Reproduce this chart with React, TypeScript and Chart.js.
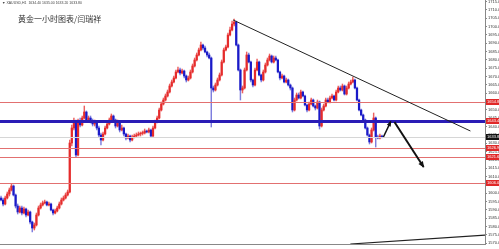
import React, { useEffect, useRef } from "react";
import { Chart, registerables } from "chart.js";
Chart.register(...registerables);

const titleText = "黄金一小时图表/闫瑞祥";
const infoText = "▼ XAUUSD,H1  1634.40 1635.00 1633.20 1633.80";

const slotCount = 233;
const labelEvery = 8;
const timeLabels = [
  "2 Mar 2020", "2 Mar 15:00", "2 Mar 23:00", "3 Mar 08:00", "3 Mar 16:00", "4 Mar 01:00",
  "4 Mar 09:00", "4 Mar 17:00", "5 Mar 02:00", "5 Mar 10:00", "5 Mar 18:00", "6 Mar 03:00",
  "6 Mar 11:00", "6 Mar 19:00", "9 Mar 04:00", "9 Mar 12:00", "9 Mar 20:00", "10 Mar 05:00",
  "10 Mar 13:00", "10 Mar 21:00", "11 Mar 06:00", "11 Mar 14:00", "11 Mar 22:00", "12 Mar 07:00",
];

const opens = [
  1597.2,1596.0,1593.6,1597.2,1599.6,1602.0,1604.4,1599.0,1592.4,1588.8,
  1591.2,1588.2,1590.6,1587.0,1588.8,1582.8,1579.2,1581.0,1587.0,1591.2,
  1593.0,1594.2,1594.8,1593.0,1593.6,1590.0,1588.2,1589.4,1591.2,1593.6,
  1596.0,1597.2,1599.0,1600.8,1630.2,1639.2,1642.8,1623.0,1642.8,1641.0,
  1645.2,1648.8,1644.0,1645.2,1643.4,1641.6,1642.8,1639.2,1635.0,1632.0,
  1635.6,1639.2,1641.6,1644.0,1646.4,1644.0,1640.4,1642.8,1638.0,1639.2,
  1635.6,1633.2,1634.4,1632.0,1633.8,1634.4,1635.0,1635.6,1636.0,1636.2,
  1637.4,1636.8,1638.0,1634.4,1639.2,1642.8,1645.2,1650.0,1653.6,1656.0,
  1658.4,1660.8,1664.4,1666.8,1669.2,1672.8,1674.0,1672.2,1673.4,1670.4,
  1668.0,1669.2,1672.8,1676.4,1680.0,1683.0,1686.0,1689.0,1687.2,1684.8,
  1683.0,1681.2,1663.2,1662.0,1665.0,1668.0,1671.0,1678.8,1686.0,1687.8,
  1695.0,1698.0,1701.6,1702.8,1689.0,1674.0,1662.0,1663.2,1674.0,1683.0,
  1678.8,1668.0,1665.0,1674.0,1678.8,1671.0,1668.0,1672.8,1677.0,1680.0,
  1682.4,1678.8,1681.2,1680.0,1672.8,1669.2,1670.4,1666.8,1668.0,1665.0,
  1663.2,1650.0,1656.0,1659.0,1657.2,1660.8,1658.4,1653.0,1650.0,1653.6,
  1656.0,1652.4,1651.2,1654.8,1640.4,1650.0,1652.4,1656.0,1654.8,1657.2,
  1658.4,1656.0,1660.8,1663.2,1662.0,1664.4,1659.6,1663.2,1665.6,1666.8,
  1668.0,1663.2,1656.0,1650.0,1647.0,1644.0,1639.2,1635.0,1630.8,1638.0,
  1645.2,1633.8,1633.2,1634.4,
];

const closes = [
  1596.0,1593.6,1597.2,1599.6,1602.0,1604.4,1599.0,1592.4,1588.8,1591.2,
  1588.2,1590.6,1587.0,1588.8,1582.8,1579.2,1581.0,1587.0,1591.2,1593.0,
  1594.2,1594.8,1593.0,1593.6,1590.0,1588.2,1589.4,1591.2,1593.6,1596.0,
  1597.2,1599.0,1600.8,1630.2,1639.2,1642.8,1623.0,1642.8,1641.0,1645.2,
  1648.8,1644.0,1645.2,1643.4,1641.6,1642.8,1639.2,1635.0,1632.0,1635.6,
  1639.2,1641.6,1644.0,1646.4,1644.0,1640.4,1642.8,1638.0,1639.2,1635.6,
  1633.2,1634.4,1632.0,1633.8,1634.4,1635.0,1635.6,1636.0,1636.2,1637.4,
  1636.8,1638.0,1634.4,1639.2,1642.8,1645.2,1650.0,1653.6,1656.0,1658.4,
  1660.8,1664.4,1666.8,1669.2,1672.8,1674.0,1672.2,1673.4,1670.4,1668.0,
  1669.2,1672.8,1676.4,1680.0,1683.0,1686.0,1689.0,1687.2,1684.8,1683.0,
  1681.2,1663.2,1662.0,1665.0,1668.0,1671.0,1678.8,1686.0,1687.8,1695.0,
  1698.0,1701.6,1702.8,1689.0,1674.0,1662.0,1663.2,1674.0,1683.0,1678.8,
  1668.0,1665.0,1674.0,1678.8,1671.0,1668.0,1672.8,1677.0,1680.0,1682.4,
  1678.8,1681.2,1680.0,1672.8,1669.2,1670.4,1666.8,1668.0,1665.0,1663.2,
  1650.0,1656.0,1659.0,1657.2,1660.8,1658.4,1653.0,1650.0,1653.6,1656.0,
  1652.4,1651.2,1654.8,1640.4,1650.0,1652.4,1656.0,1654.8,1657.2,1658.4,
  1656.0,1660.8,1663.2,1662.0,1664.4,1659.6,1663.2,1665.6,1666.8,1668.0,
  1663.2,1656.0,1650.0,1647.0,1644.0,1639.2,1635.0,1630.8,1638.0,1645.2,
  1633.8,1633.2,1634.4,1633.8,
];

const highs = [
  1598.4,1597.2,1598.4,1600.8,1603.2,1605.6,1605.0,1599.6,1593.6,1592.4,
  1592.4,1591.8,1591.2,1590.0,1589.4,1583.4,1582.2,1588.2,1592.4,1594.2,
  1595.4,1596.0,1595.4,1594.8,1594.2,1590.6,1590.6,1592.4,1594.8,1597.2,
  1598.4,1600.2,1602.0,1632.0,1641.0,1645.2,1644.0,1644.6,1645.2,1646.4,
  1652.4,1649.4,1646.4,1646.4,1644.6,1644.0,1643.4,1640.4,1636.2,1636.8,
  1640.4,1642.8,1645.2,1647.6,1647.0,1644.6,1644.0,1643.4,1641.0,1639.8,
  1636.2,1635.6,1635.0,1635.0,1635.6,1636.2,1636.8,1636.8,1637.4,1638.6,
  1638.0,1639.2,1638.6,1640.4,1644.0,1646.4,1651.2,1654.8,1657.2,1659.6,
  1662.0,1665.6,1668.0,1670.4,1674.0,1675.8,1675.2,1674.6,1674.0,1671.0,
  1670.4,1674.0,1677.6,1681.2,1684.2,1687.2,1690.8,1689.6,1688.4,1685.4,
  1684.2,1681.8,1664.4,1666.2,1669.2,1672.2,1680.0,1687.2,1689.0,1696.2,
  1699.8,1703.4,1704.6,1703.4,1689.6,1674.6,1664.4,1675.2,1684.8,1684.2,
  1679.4,1668.6,1675.2,1680.6,1679.4,1671.6,1674.0,1678.2,1681.2,1683.6,
  1683.0,1682.4,1682.4,1680.6,1673.4,1671.6,1671.0,1669.2,1668.6,1665.6,
  1663.8,1657.2,1660.2,1660.2,1662.0,1661.4,1659.0,1653.6,1654.8,1657.2,
  1656.6,1653.0,1656.0,1655.4,1651.2,1653.6,1657.2,1657.2,1658.4,1659.6,
  1659.0,1662.0,1664.4,1664.4,1665.6,1665.0,1664.4,1666.8,1668.0,1669.8,
  1668.6,1663.8,1656.6,1650.6,1647.6,1644.6,1639.8,1635.6,1639.2,1648.2,
  1645.8,1635.0,1635.6,1635.0,
];

const lows = [
  1595.4,1592.4,1593.0,1596.6,1598.4,1601.4,1598.4,1591.2,1587.6,1588.2,
  1587.0,1587.6,1585.8,1586.4,1581.6,1576.8,1578.0,1580.4,1586.4,1590.6,
  1592.4,1593.6,1592.4,1592.4,1589.4,1587.0,1587.6,1588.8,1590.6,1593.0,
  1595.4,1596.6,1598.4,1600.2,1628.4,1638.0,1621.8,1622.4,1639.8,1640.4,
  1644.6,1642.8,1643.4,1642.2,1640.4,1640.4,1638.0,1633.8,1629.0,1631.4,
  1635.0,1638.6,1641.0,1643.4,1642.8,1639.2,1639.8,1636.8,1637.4,1634.4,
  1632.0,1632.6,1630.8,1631.4,1633.2,1633.8,1634.4,1634.4,1635.0,1635.6,
  1636.2,1636.2,1633.8,1633.8,1638.6,1642.2,1644.6,1649.4,1653.0,1655.4,
  1657.8,1660.2,1663.8,1666.2,1668.6,1672.2,1671.0,1671.6,1669.2,1666.8,
  1667.4,1668.6,1672.2,1675.8,1679.4,1682.4,1685.4,1686.0,1684.2,1681.8,
  1680.6,1639.8,1660.8,1661.4,1664.4,1667.4,1670.4,1678.2,1685.4,1687.2,
  1694.4,1697.4,1700.4,1688.4,1673.4,1656.0,1660.2,1662.6,1673.4,1678.2,
  1666.8,1663.8,1664.4,1673.4,1670.4,1666.8,1667.4,1672.2,1676.4,1679.4,
  1678.2,1678.2,1679.4,1672.2,1668.0,1668.6,1666.2,1666.2,1664.4,1662.0,
  1648.8,1649.4,1655.4,1656.6,1656.6,1657.8,1652.4,1648.8,1649.4,1653.0,
  1651.8,1650.0,1650.6,1638.6,1639.8,1649.4,1651.8,1654.2,1654.2,1656.6,
  1655.4,1655.4,1660.2,1661.4,1661.4,1659.0,1659.0,1662.6,1665.0,1666.2,
  1662.6,1655.4,1649.4,1646.4,1643.4,1638.6,1634.4,1629.6,1630.2,1637.4,
  1627.8,1632.6,1632.6,1633.2,
];

const priceMin = 1569.6;
const priceMax = 1716.0;
const priceStep = 5;

const redLevels = [1654.8, 1626.9, 1621.6, 1606.0];
const keyLevel = 1643.4;
const currentPrice = 1633.8;

// [barIndex, price] pairs
const upperTrend = [[111.5, 1704.0], [225.5, 1637.4]];
const lowerTrend = [[167.8, 1569.6], [232.7, 1575.0]];
const arrowUp = [[183.7, 1633.8], [187.2, 1643.0]];
const arrowDown = [[189.0, 1642.8], [203.0, 1615.8]];

const RED = "#e52b2b";
const BLUE = "#1a1ac8";

export default function App() {
  const ref = useRef<HTMLCanvasElement | null>(null);

  useEffect(() => {
    document.body.style.margin = "0";
    const canvas = ref.current;
    if (!canvas) return;

    const labels = Array.from({ length: slotCount }, (_, i) => String(i));
    const bodies = opens.map((o, i) => [o, closes[i]]);
    const wicks = highs.map((h, i) => [lows[i], h]);
    const bodyColors = opens.map((o, i) => (closes[i] >= o ? RED : BLUE));
    const wickColors = opens.map((o, i) => (closes[i] >= o ? "rgba(229,43,43,0.75)" : "rgba(40,40,200,0.6)"));

    const overlay = {
      id: "overlay",
      afterDatasetsDraw(chart: any) {
        const { ctx, chartArea: a, scales } = chart;
        const x = scales.x;
        const y = scales.y;
        ctx.save();
        ctx.beginPath();
        ctx.rect(a.left, a.top, a.right - a.left, a.bottom - a.top);
        ctx.clip();
        const hline = (p: number, color: string, w: number) => {
          const yy = Math.round(y.getPixelForValue(p)) + (w % 2 ? 0.5 : 0);
          ctx.strokeStyle = color;
          ctx.lineWidth = w;
          ctx.beginPath();
          ctx.moveTo(a.left, yy);
          ctx.lineTo(a.right, yy);
          ctx.stroke();
        };
        hline(currentPrice, "#d6d6d6", 1);
        redLevels.forEach((p) => hline(p, "#e27070", 1));
        hline(keyLevel, "#2a1cb6", 3);

        const pt = (p: number[]) => [x.getPixelForValue(p[0]), y.getPixelForValue(p[1])];
        const seg = (pts: number[][], color: string, w: number) => {
          const [x1, y1] = pt(pts[0]);
          const [x2, y2] = pt(pts[1]);
          ctx.strokeStyle = color;
          ctx.lineWidth = w;
          ctx.beginPath();
          ctx.moveTo(x1, y1);
          ctx.lineTo(x2, y2);
          ctx.stroke();
          return [x1, y1, x2, y2];
        };
        seg(upperTrend, "#222", 1);
        seg(lowerTrend, "#222", 1.2);
        const arrow = (pts: number[][], w: number, head: number) => {
          const [x1, y1, x2, y2] = seg(pts, "#111", w);
          const ang = Math.atan2(y2 - y1, x2 - x1);
          ctx.fillStyle = "#111";
          ctx.beginPath();
          ctx.moveTo(x2 + Math.cos(ang) * 1, y2 + Math.sin(ang) * 1);
          ctx.lineTo(x2 - Math.cos(ang - 0.45) * head, y2 - Math.sin(ang - 0.45) * head);
          ctx.lineTo(x2 - Math.cos(ang + 0.45) * head, y2 - Math.sin(ang + 0.45) * head);
          ctx.closePath();
          ctx.fill();
        };
        arrow(arrowUp, 1.5, 5);
        arrow(arrowDown, 2, 6);
        ctx.restore();
      },
      afterDraw(chart: any) {
        const { ctx, chartArea: a, scales } = chart;
        const y = scales.y;
        ctx.save();
        const box = (p: number, bg: string) => {
          const yy = Math.round(y.getPixelForValue(p));
          ctx.fillStyle = bg;
          ctx.fillRect(a.right + 1, yy - 3, 14, 6);
          ctx.fillStyle = "#fff";
          ctx.font = '4px "Liberation Sans"';
          ctx.textBaseline = "middle";
          ctx.textAlign = "left";
          ctx.fillText(p.toFixed(2), a.right + 2, yy);
        };
        redLevels.forEach((p) => box(p, "#e02828"));
        box(keyLevel, "#e02828");
        box(currentPrice, "#111");

        ctx.fillStyle = "#333";
        ctx.font = '8px "Noto Sans CJK SC"';
        ctx.textBaseline = "alphabetic";
        ctx.textAlign = "left";
        ctx.fillText(titleText, 18, 22);
        ctx.font = '3.5px "Liberation Sans"';
        ctx.fillStyle = "#444";
        ctx.fillText(infoText, 2, 4);
        ctx.restore();
      },
    };

    const chart = new Chart(canvas, {
      type: "bar",
      data: {
        labels,
        datasets: [
          {
            data: bodies as any,
            backgroundColor: bodyColors,
            barThickness: 1.6,
            minBarLength: 0.8,
            grouped: false,
            borderWidth: 0,
          } as any,
          {
            data: wicks as any,
            backgroundColor: wickColors,
            barThickness: 0.8,
            grouped: false,
            borderWidth: 0,
          } as any,
        ],
      },
      options: {
        animation: false,
        responsive: false,
        devicePixelRatio: 1,
        layout: { padding: 0 },
        plugins: { legend: { display: false }, tooltip: { enabled: false }, title: { display: false } },
        scales: {
          x: {
            type: "category",
            offset: true,
            grid: { display: false },
            border: { display: true, color: "#888" },
            ticks: {
              autoSkip: false,
              maxRotation: 0,
              minRotation: 0,
              align: "start",
              padding: 0,
              color: "#333",
              font: { size: 3.5, family: "Liberation Sans" },
              callback: (_v: any, idx: number) =>
                idx % labelEvery === 0 && idx / labelEvery < timeLabels.length ? timeLabels[idx / labelEvery] : null,
            },
            afterFit: (s: any) => {
              s.height = 5;
              s.paddingLeft = 0;
              s.paddingRight = 0;
            },
          },
          y: {
            type: "linear",
            position: "right",
            min: priceMin,
            max: priceMax,
            grid: { display: true, drawOnChartArea: false, drawTicks: true, tickLength: 2, color: "#888" },
            border: { display: true, color: "#888" },
            ticks: {
              stepSize: priceStep,
              includeBounds: false,
              autoSkip: false,
              maxTicksLimit: 60,
              padding: 1,
              color: "#333",
              font: { size: 4, family: "Liberation Sans" },
              callback: (v: any) => Number(v).toFixed(2),
            },
            afterFit: (s: any) => {
              s.width = 14;
              s.paddingTop = 0;
              s.paddingBottom = 0;
            },
          },
        },
      } as any,
      plugins: [overlay],
    });
    return () => chart.destroy();
  }, []);

  return <canvas ref={ref} width={499} height={249} style={{ display: "block" }} />;
}
